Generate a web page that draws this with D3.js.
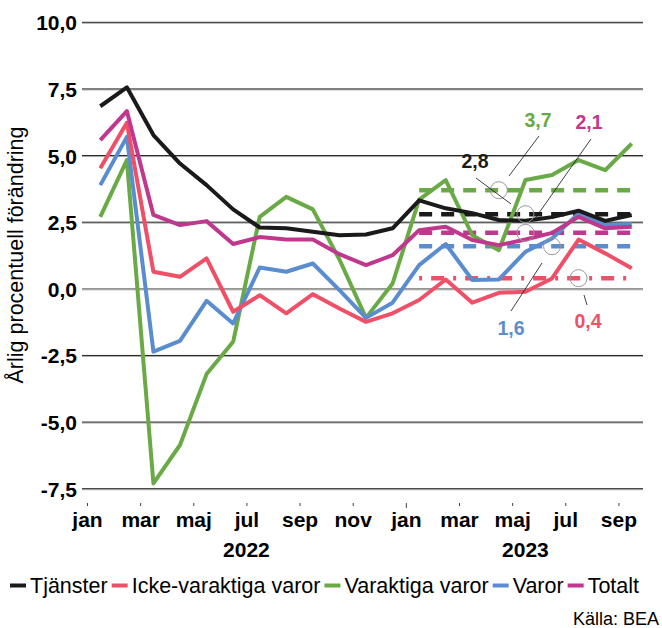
<!DOCTYPE html>
<html>
<head>
<meta charset="utf-8">
<script src="https://cdn.jsdelivr.net/npm/d3@7"></script>
<style>
  body { margin: 0; background: #fff; }
  svg { font-family: "Liberation Sans", Arial, sans-serif; display: block; }
</style>
</head>
<body>
<svg id="chart" width="662" height="628"></svg>
<script>
// månader jan 2022 - sep 2023
const monthLabels = ['jan', 'mar', 'maj', 'jul', 'sep', 'nov', 'jan', 'mar', 'maj', 'jul', 'sep'];
const yearLabels = [{ year: '2022', month: 6 }, { year: '2023', month: 16.5 }];
const yTicks = [-7.5, -5, -2.5, 0, 2.5, 5, 7.5, 10];

const tjanster = [6.85, 7.56, 5.77, 4.7, 3.89, 2.98, 2.3, 2.27, 2.14, 2.01, 2.04, 2.27, 3.32, 3.02, 2.84, 2.58, 2.55, 2.69, 2.93, 2.55, 2.77];
const ickeVaraktiga = [4.52, 6.23, 0.64, 0.45, 1.14, -0.86, -0.24, -0.92, -0.2, -0.74, -1.24, -0.92, -0.42, 0.35, -0.52, -0.15, -0.11, 0.39, 1.85, 1.33, 0.77];
const varaktiga = [2.7, 4.83, -7.3, -5.86, -3.2, -1.99, 2.7, 3.45, 2.98, 1.1, -1.09, 0.2, 3.35, 4.08, 2.01, 1.45, 4.08, 4.27, 4.83, 4.45, 5.45];
const varor = [3.89, 5.7, -2.36, -1.95, -0.45, -1.3, 0.8, 0.64, 0.95, -0.05, -1.09, -0.52, 0.89, 1.68, 0.33, 0.35, 1.39, 1.89, 2.83, 2.39, 2.43];
const totalt = [5.58, 6.67, 2.77, 2.39, 2.54, 1.68, 1.94, 1.85, 1.85, 1.3, 0.89, 1.26, 2.2, 2.33, 1.83, 1.64, 1.85, 2.1, 2.7, 2.27, 2.33];

// genomsnitt 2023 (streckade linjer)
const seriesNames = ['Tjänster', 'Icke-varaktiga varor', 'Varaktiga varor', 'Varor', 'Totalt'];
const averages = [2.8, 0.4, 3.7, 1.6, 2.1];
const averageLabels = ['2,8', '0,4', '3,7', '1,6', '2,1'];
const averageMarkMonth = [16, 18, 15, 17, 16];

const colors = ['#1a1a1a', '#ef5068', '#6aaa46', '#5a8dcf', '#bf388d'];
const allSeries = [tjanster, ickeVaraktiga, varaktiga, varor, totalt];

const svg = d3.select('#chart');
const left = 82, right = 643;

const x = d3.scaleLinear().domain([0, 21]).range([87, 645]);
const y = d3.scaleLinear().domain([-7.5, 10]).range([488.7, 22.3]);

const fmt = d => d3.format('.1f')(d).replace('.', ',').replace('−', '-');

// grid + y-axis
const yAxis = svg.append('g')
    .attr('transform', `translate(${left},0)`)
    .call(d3.axisLeft(y).tickValues(yTicks).tickSize(0).tickPadding(5).tickFormat(fmt));
yAxis.select('.domain').remove();
yAxis.selectAll('.tick text')
    .attr('font-size', '21px')
    .attr('font-weight', 'bold')
    .attr('font-family', '"Liberation Sans", Arial, sans-serif')
    .attr('fill', '#000')
    .attr('dy', '7.5');

const grid = svg.append('g');
grid.selectAll('line.g2').data(yTicks).enter().append('line')
    .attr('x1', left).attr('x2', right)
    .attr('y1', d => y(d) + 1).attr('y2', d => y(d) + 1)
    .attr('stroke', '#aaa').attr('stroke-width', 1);
grid.selectAll('line.g1').data(yTicks).enter().append('line')
    .attr('x1', left).attr('x2', right)
    .attr('y1', d => y(d)).attr('y2', d => y(d))
    .attr('stroke', d => d === 0 ? '#666' : '#222').attr('stroke-width', 1);

// x-axis
const xAxis = svg.append('g')
    .attr('transform', 'translate(0,503)')
    .call(d3.axisBottom(x)
        .tickValues(d3.range(0, 21, 2))
        .tickSize(3)
        .tickFormat((d, i) => monthLabels[i]));
xAxis.select('.domain').remove();
xAxis.selectAll('.tick line').attr('stroke', '#444')
    .attr('y2', d => d === 12 ? 5 : 3);
xAxis.selectAll('.tick text')
    .attr('font-size', '21px')
    .attr('font-weight', 'bold')
    .attr('font-family', '"Liberation Sans", Arial, sans-serif')
    .attr('fill', '#000')
    .attr('y', 24).attr('dy', 0);

svg.selectAll('text.year').data(yearLabels).enter().append('text')
    .attr('class', 'year')
    .attr('x', d => x(d.month))
    .attr('y', 557)
    .attr('text-anchor', 'middle')
    .attr('font-size', '21px')
    .attr('font-weight', 'bold')
    .text(d => d.year);

// y-axis title
svg.append('text')
    .attr('transform', 'translate(23,255) rotate(-90)')
    .attr('text-anchor', 'middle')
    .attr('font-size', '21.5px')
    .text('Årlig procentuell förändring');

// averages (dashed)
const avgStart = 12.5, avgEnd = 20.5;
const drawOrder = [1, 3, 4, 0, 2];
drawOrder.forEach(i => {
    svg.append('line')
        .attr('x1', x(avgStart)).attr('x2', x(avgEnd))
        .attr('y1', y(averages[i])).attr('y2', y(averages[i]))
        .attr('stroke', colors[i])
        .attr('stroke-width', 4.5)
        .attr('stroke-dasharray', i === 1 ? '3,9,13,9' : '13,9');
});

// series lines
const line = d3.line()
    .x((d, i) => x(i + 0.5))
    .y(d => y(d));

[2, 3, 1, 4, 0].forEach(i => {
    svg.append('path')
        .datum(allSeries[i])
        .attr('fill', 'none')
        .attr('stroke', colors[i])
        .attr('stroke-width', 4)
        .attr('stroke-linejoin', 'round')
        .attr('d', line);
});

// annotations: circle on average line, leader line, label
const annot = [
    { s: 2, lx: 538, ly: 127, l1: [539, 136], l2: [509, 176] },
    { s: 0, lx: 475, ly: 168, l1: [476, 178], l2: [511, 204] },
    { s: 4, lx: 589, ly: 129, l1: [591, 139], l2: [534, 220] },
    { s: 3, lx: 511, ly: 335, l1: [511, 311], l2: [542, 263] },
    { s: 1, lx: 588, ly: 328, l1: [584, 295], l2: [587, 305] }
];

annot.forEach(a => {
    svg.append('circle')
        .attr('cx', x(averageMarkMonth[a.s] + 0.5))
        .attr('cy', y(averages[a.s]))
        .attr('r', 8.5)
        .attr('fill', 'none')
        .attr('stroke', '#999')
        .attr('stroke-width', 1);
    svg.append('line')
        .attr('x1', a.l1[0]).attr('y1', a.l1[1])
        .attr('x2', a.l2[0]).attr('y2', a.l2[1])
        .attr('stroke', '#111').attr('stroke-width', 0.8);
    svg.append('text')
        .attr('x', a.lx).attr('y', a.ly)
        .attr('text-anchor', 'middle')
        .attr('font-size', '19.5px')
        .attr('font-weight', 'bold')
        .attr('fill', colors[a.s])
        .text(averageLabels[a.s]);
});

// legend
let lx = 10;
seriesNames.forEach((name, i) => {
    svg.append('rect')
        .attr('x', lx).attr('y', 583.5)
        .attr('width', 16).attr('height', 4)
        .attr('fill', colors[i]);
    const t = svg.append('text')
        .attr('x', lx + 20).attr('y', 593)
        .attr('font-size', '21.5px')
        .text(name);
    lx += 20 + t.node().getComputedTextLength() + 4;
});

svg.append('text')
    .attr('x', 659).attr('y', 625)
    .attr('text-anchor', 'end')
    .attr('font-size', '18px')
    .text('Källa: BEA');
</script>
</body>
</html>
